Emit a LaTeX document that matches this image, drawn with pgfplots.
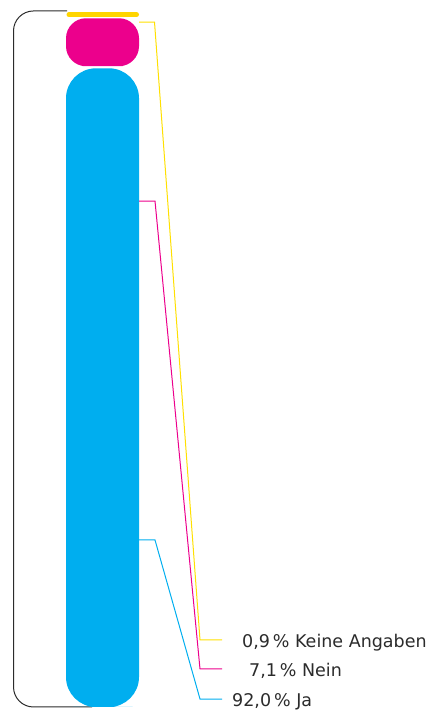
\documentclass[border=0pt]{standalone}
\usepackage{pgfplots}
\pgfplotsset{compat=1.18}
\usepackage{fontspec}
\setmainfont{DejaVu Sans}
\definecolor{jaC}{HTML}{00AEEF}
\definecolor{neinC}{HTML}{EC008C}
\definecolor{kaC}{HTML}{FFD500}
\definecolor{kaL}{HTML}{FFE000}
\definecolor{txt}{HTML}{2B2B2B}
\begin{document}
\begin{tikzpicture}
\begin{axis}[
  width=433pt, height=711pt, scale only axis,
  xmin=0, xmax=433, ymin=-0.576, ymax=101.73,
  hide axis, clip=false,
]
% bracket
\addplot[draw=txt, line width=1pt, rounded corners=20pt] coordinates {(67,100.15) (13.5,100.15) (13.5,0) (92,0)};
% Ja 92,0
\addplot[fill=jaC, draw=none, rounded corners=30pt] coordinates {(102.5,0) (139,0) (139,91.9) (66,91.9) (66,0)} -- cycle;
% Nein 7,1
\addplot[fill=neinC, draw=none, rounded corners=20pt] coordinates {(102.5,92.2) (139,92.2) (139,99.1) (66,99.1) (66,92.2)} -- cycle;
% Keine Angaben 0,9
\addplot[draw=kaC, line width=5pt, line cap=round] coordinates {(69,99.6) (136.5,99.6)};
% leaders
\addplot[draw=kaL, line width=1pt] coordinates {(139,98.56) (154.5,98.56) (200,9.64) (222,9.64)};
\addplot[draw=neinC, line width=1pt] coordinates {(139,72.8) (155,72.8) (200,5.47) (222,5.47)};
\addplot[draw=jaC, line width=1pt] coordinates {(139,24.03) (155,24.03) (200,1.15) (222,1.15)};
% labels
\tikzset{lbl/.style={anchor=base west, inner sep=0pt, text=txt, font=\fontsize{17.5}{20}\selectfont}}
\node[lbl] at (axis cs:242,8.56) {0,9\,\%\ Keine Angaben};
\node[lbl] at (axis cs:249,4.32) {7,1\,\%\ Nein};
\node[lbl] at (axis cs:232,0.07) {92,0\,\%\ Ja};
\end{axis}
\pgfresetboundingbox
\path[use as bounding box] (current axis.south west) rectangle (current axis.north east);
\end{tikzpicture}
\end{document}
